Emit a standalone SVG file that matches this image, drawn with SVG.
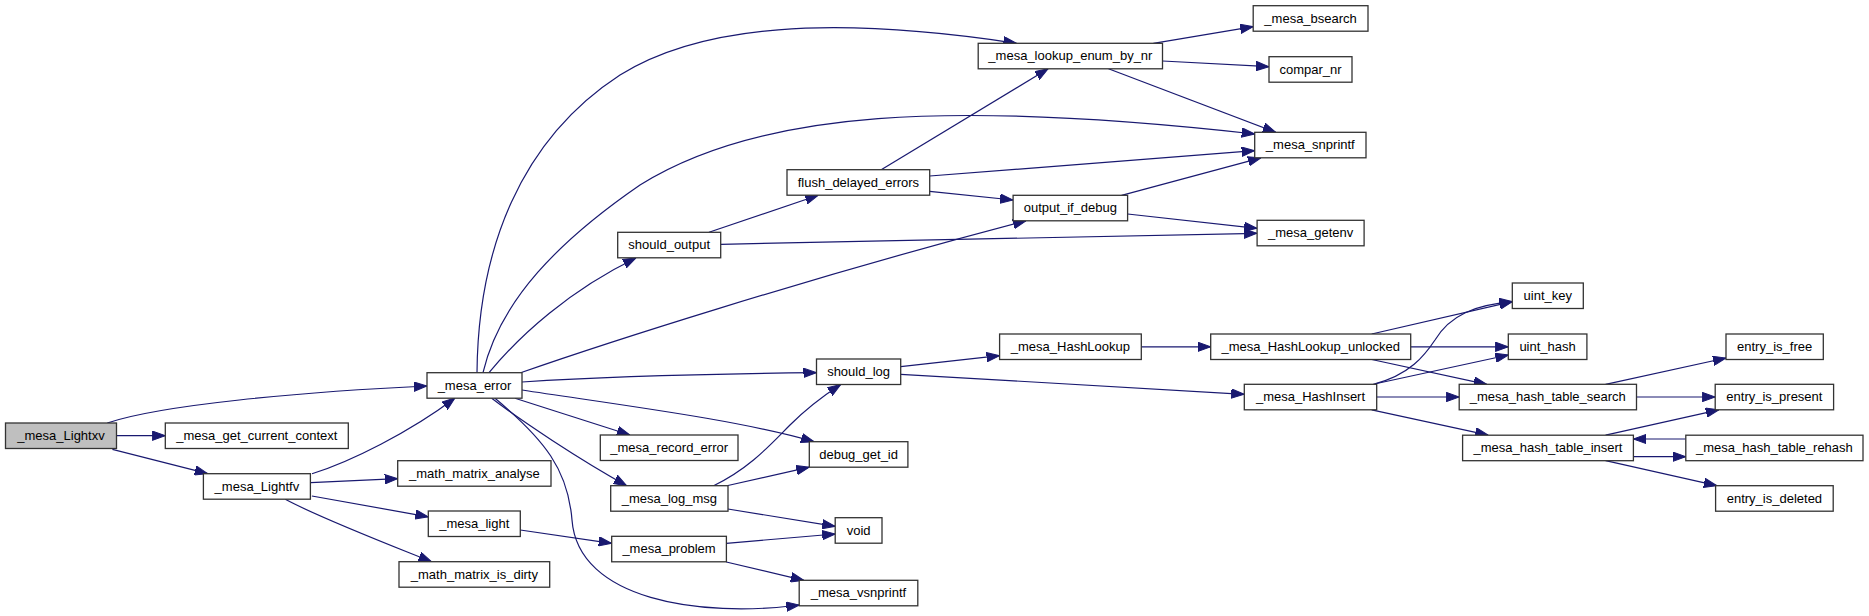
<svg xmlns="http://www.w3.org/2000/svg" width="1869" height="616" viewBox="0 0 1869 616">
<style>
.node rect{fill:#ffffff;stroke:#333333;stroke-width:1.3}
.node.root rect{fill:#bfbfbf}
.node text{font-family:"Liberation Sans",Arial,sans-serif;font-size:13px;fill:#000000;text-anchor:middle}
.edges path{fill:none;stroke:#191970;stroke-width:1.2;marker-end:url(#ah)}
</style>
<defs>
<marker id="ah" markerUnits="userSpaceOnUse" viewBox="0 0 13 10" refX="13" refY="5" markerWidth="13" markerHeight="10" orient="auto">
<path d="M0,0.3 L13,5 L0,9.7 z" fill="#191970" stroke="#191970" stroke-width="1"/>
</marker>
</defs>
<rect x="0" y="0" width="1869" height="616" fill="#ffffff"/>
<g class="edges">
<path d="M107.3,423 C160,405 300,392 427,386"/>
<path d="M116.4,435.7 L165.3,435.7"/>
<path d="M112.4,449.3 L207.8,473.7"/>
<path d="M312,473.7 C350,462 410,432 455,398"/>
<path d="M310.7,482.7 L397.7,478.7"/>
<path d="M311.9,496 L428.3,516.8"/>
<path d="M285.3,499.3 C320,518 390,545 431.5,561.7"/>
<path d="M520.3,530 L611.7,543.3"/>
<path d="M477,372.7 C478,250 520,140 620,75 C700,25 830,15 1016.5,43.3"/>
<path d="M483,372.7 C500,300 560,240 640,185 C760,110 950,100 1254.7,134"/>
<path d="M489,372.7 C520,335 570,290 636,258"/>
<path d="M520.6,372.7 C600,345 800,280 1026,220.8"/>
<path d="M522,382 C600,377 700,374 816.5,372.7"/>
<path d="M522,390 C620,405 740,420 814,441.7"/>
<path d="M515,398.3 L630,435"/>
<path d="M491.7,398.3 C520,420 580,460 626.7,485.7"/>
<path d="M495,398.3 C545,440 568,470 572,520 C578,600 700,618 799.3,605"/>
<path d="M709,232.3 L818.3,195.2"/>
<path d="M720.7,244.3 L1257.1,233.3"/>
<path d="M881.2,169.7 L1048.1,68.8"/>
<path d="M929.7,176 L1254.7,150.7"/>
<path d="M929.7,191.3 L1013.1,200"/>
<path d="M1121.6,195.3 L1261,157.8"/>
<path d="M1127.6,214 L1257.1,228.3"/>
<path d="M1153.4,43.3 L1253.2,26.7"/>
<path d="M1162.5,61 L1269,66.7"/>
<path d="M1108.5,68.8 L1275.8,132.3"/>
<path d="M713.6,485.7 C750,468 770,445 790,425 C805,410 820,398 840.7,384.5"/>
<path d="M727.9,485.5 L809.3,467.2"/>
<path d="M727.9,509 L835.2,526.3"/>
<path d="M726.3,543.3 L835.2,534"/>
<path d="M726.3,562 L803.8,580.3"/>
<path d="M900.7,366.7 L999.6,355.7"/>
<path d="M900.7,374.3 L1244.3,394.3"/>
<path d="M1141.3,346.8 L1210.7,346.8"/>
<path d="M1371.7,334 L1512.3,301.7"/>
<path d="M1410.7,346.8 L1508.3,346.8"/>
<path d="M1371.7,359.5 L1486.7,384.3"/>
<path d="M1373.3,384.3 C1410,375 1425,355 1435,340 C1450,315 1475,305 1512.3,301.7"/>
<path d="M1376.7,383.5 L1508.3,355"/>
<path d="M1376.7,397 L1459.2,397"/>
<path d="M1371.7,409.8 L1488.3,435.2"/>
<path d="M1605.6,384.3 L1726,358"/>
<path d="M1636.5,397 L1715.2,397"/>
<path d="M1605.6,435.2 L1718.8,409.8"/>
<path d="M1633.4,456.7 L1685.8,456.7"/>
<path d="M1685.8,439 L1633.4,439"/>
<path d="M1605.6,460.7 L1716.8,485.7"/>
</g>
<g id="n_mesa_Lightxv" class="node root"><rect x="5.5" y="423" width="111" height="25.5"/><text x="61" y="439.8">_mesa_Lightxv</text></g>
<g id="n_mesa_get_current_context" class="node"><rect x="165.3" y="423" width="183" height="25.5"/><text x="256.8" y="439.8">_mesa_get_current_context</text></g>
<g id="n_mesa_error" class="node"><rect x="427" y="372.7" width="95" height="25.5"/><text x="474.5" y="389.5">_mesa_error</text></g>
<g id="n_mesa_Lightfv" class="node"><rect x="203.4" y="473.7" width="107" height="25.5"/><text x="256.9" y="490.5">_mesa_Lightfv</text></g>
<g id="n_math_matrix_analyse" class="node"><rect x="397.7" y="460.7" width="153.3" height="25.5"/><text x="474.4" y="477.5">_math_matrix_analyse</text></g>
<g id="n_mesa_light" class="node"><rect x="428.3" y="511" width="92" height="25.5"/><text x="474.3" y="527.8">_mesa_light</text></g>
<g id="n_math_matrix_is_dirty" class="node"><rect x="399" y="561.7" width="150.7" height="25.5"/><text x="474.4" y="578.5">_math_matrix_is_dirty</text></g>
<g id="n_mesa_record_error" class="node"><rect x="600.3" y="435" width="137.7" height="25.5"/><text x="669.2" y="451.8">_mesa_record_error</text></g>
<g id="n_mesa_log_msg" class="node"><rect x="610.7" y="485.7" width="117.3" height="25.5"/><text x="669.4" y="502.5">_mesa_log_msg</text></g>
<g id="n_mesa_problem" class="node"><rect x="611.7" y="536.3" width="114.7" height="25.5"/><text x="669" y="553.1">_mesa_problem</text></g>
<g id="n_should_output" class="node"><rect x="617.7" y="232.3" width="103" height="25.5"/><text x="669.2" y="249.1">should_output</text></g>
<g id="n_flush_delayed_errors" class="node"><rect x="787" y="169.7" width="142.7" height="25.5"/><text x="858.4" y="186.5">flush_delayed_errors</text></g>
<g id="n_mesa_lookup_enum_by_nr" class="node"><rect x="978.2" y="43.3" width="184.3" height="25.5"/><text x="1070.4" y="60.1">_mesa_lookup_enum_by_nr</text></g>
<g id="n_output_if_debug" class="node"><rect x="1013.1" y="195.3" width="114.5" height="25.5"/><text x="1070.4" y="212.1">output_if_debug</text></g>
<g id="n_should_log" class="node"><rect x="816.5" y="359" width="84.2" height="25.5"/><text x="858.6" y="375.8">should_log</text></g>
<g id="n_debug_get_id" class="node"><rect x="809.3" y="441.7" width="98.6" height="25.5"/><text x="858.6" y="458.5">debug_get_id</text></g>
<g id="n_void" class="node"><rect x="835.2" y="517.7" width="46.8" height="25.5"/><text x="858.6" y="534.5">void</text></g>
<g id="n_mesa_vsnprintf" class="node"><rect x="799.2" y="580.3" width="118.6" height="25.5"/><text x="858.5" y="597.1">_mesa_vsnprintf</text></g>
<g id="n_mesa_HashLookup" class="node"><rect x="999.6" y="334" width="141.7" height="25.5"/><text x="1070.4" y="350.8">_mesa_HashLookup</text></g>
<g id="n_mesa_bsearch" class="node"><rect x="1253.2" y="5.7" width="114.8" height="25.5"/><text x="1310.6" y="22.5">_mesa_bsearch</text></g>
<g id="n_compar_nr" class="node"><rect x="1269" y="56.7" width="83" height="25.5"/><text x="1310.5" y="73.5">compar_nr</text></g>
<g id="n_mesa_snprintf" class="node"><rect x="1254.7" y="132.3" width="111.3" height="25.5"/><text x="1310.3" y="149.1">_mesa_snprintf</text></g>
<g id="n_mesa_getenv" class="node"><rect x="1257.1" y="220.3" width="107" height="25.5"/><text x="1310.6" y="237.1">_mesa_getenv</text></g>
<g id="n_mesa_HashLookup_unlocked" class="node"><rect x="1210.7" y="334" width="200" height="25.5"/><text x="1310.7" y="350.8">_mesa_HashLookup_unlocked</text></g>
<g id="n_mesa_HashInsert" class="node"><rect x="1244.3" y="384.3" width="132.4" height="25.5"/><text x="1310.5" y="401.1">_mesa_HashInsert</text></g>
<g id="n_uint_key" class="node"><rect x="1512.3" y="283" width="71" height="25.5"/><text x="1547.8" y="299.8">uint_key</text></g>
<g id="n_uint_hash" class="node"><rect x="1508.3" y="334" width="78.6" height="25.5"/><text x="1547.6" y="350.8">uint_hash</text></g>
<g id="n_mesa_hash_table_search" class="node"><rect x="1459.2" y="384.3" width="177.3" height="25.5"/><text x="1547.8" y="401.1">_mesa_hash_table_search</text></g>
<g id="n_mesa_hash_table_insert" class="node"><rect x="1462.6" y="435.2" width="170.8" height="25.5"/><text x="1548" y="452">_mesa_hash_table_insert</text></g>
<g id="n_entry_is_free" class="node"><rect x="1726" y="334" width="97.3" height="25.5"/><text x="1774.6" y="350.8">entry_is_free</text></g>
<g id="n_entry_is_present" class="node"><rect x="1715.2" y="384.3" width="118.4" height="25.5"/><text x="1774.4" y="401.1">entry_is_present</text></g>
<g id="n_mesa_hash_table_rehash" class="node"><rect x="1685.8" y="435.2" width="177.2" height="25.5"/><text x="1774.4" y="452">_mesa_hash_table_rehash</text></g>
<g id="n_entry_is_deleted" class="node"><rect x="1715.6" y="485.7" width="117.6" height="25.5"/><text x="1774.4" y="502.5">entry_is_deleted</text></g>
</svg>
